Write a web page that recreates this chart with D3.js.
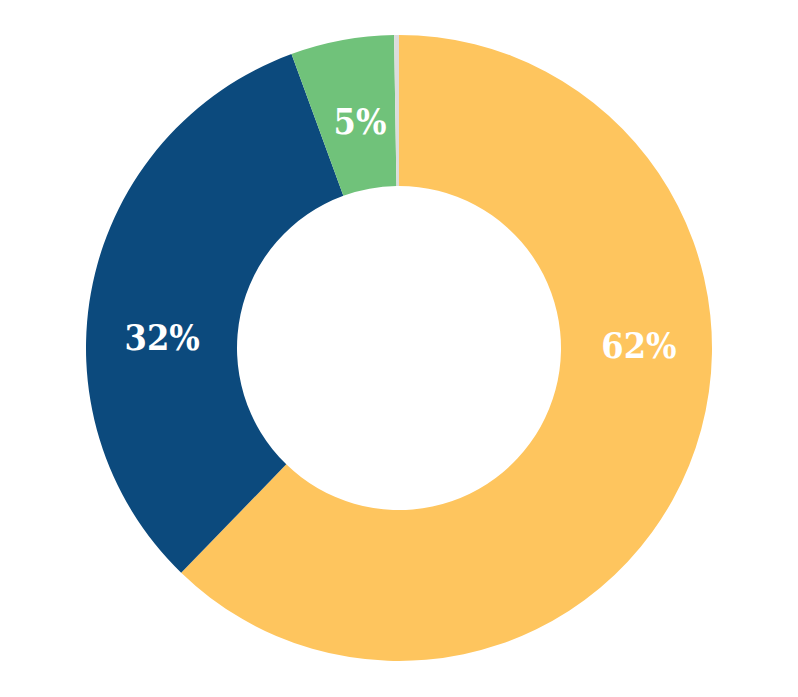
<!DOCTYPE html>
<html>
<head>
<meta charset="utf-8">
<script src="https://cdn.jsdelivr.net/npm/d3@7"></script>
<style>
  html, body { margin: 0; padding: 0; background: #ffffff; }
  svg { display: block; }
</style>
</head>
<body>
<svg id="chart" width="798" height="697"></svg>
<script>
// Data
const categories = ["A", "B", "C", "D"];
const values = [62.25, 32.17, 5.33, 0.25];
const labels = ["62%", "32%", "5%", ""];
const colors = ["#FEC55E", "#0C4A7D", "#70C27A", "#DCDCDC"];
// label placement angles (degrees clockwise from top)
const labelAngles = [89.5, 272.4, 350.2, 0];
const labelRadii = [240, 237, 229, 0];

const svg = d3.select("#chart");
const cx = 399, cy = 348, outerR = 313, innerR = 162;
const g = svg.append("g").attr("transform", `translate(${cx},${cy})`);

const pie = d3.pie().sort(null).value(d => d.value);
const arc = d3.arc().innerRadius(innerR).outerRadius(outerR);
const data = categories.map((c, i) => ({ cat: c, value: values[i], i }));

g.selectAll("path.slice")
  .data(pie(data))
  .join("path")
  .attr("class", "slice")
  .attr("d", arc)
  .attr("fill", d => colors[d.data.i]);

g.selectAll("text.lbl")
  .data(pie(data).filter(d => labels[d.data.i] !== ""))
  .join("text")
  .attr("class", "lbl")
  .attr("transform", d => {
    const a = labelAngles[d.data.i] * Math.PI / 180, r = labelRadii[d.data.i];
    return `translate(${r * Math.sin(a)},${-r * Math.cos(a) + 12}) scale(0.92,1)`;
  })
  .attr("text-anchor", "middle")
  .attr("fill", "#ffffff")
  .style("font-family", "'DejaVu Serif', serif")
  .style("font-weight", "bold")
  .style("font-size", "35px")
  .text(d => labels[d.data.i]);
</script>
</body>
</html>
